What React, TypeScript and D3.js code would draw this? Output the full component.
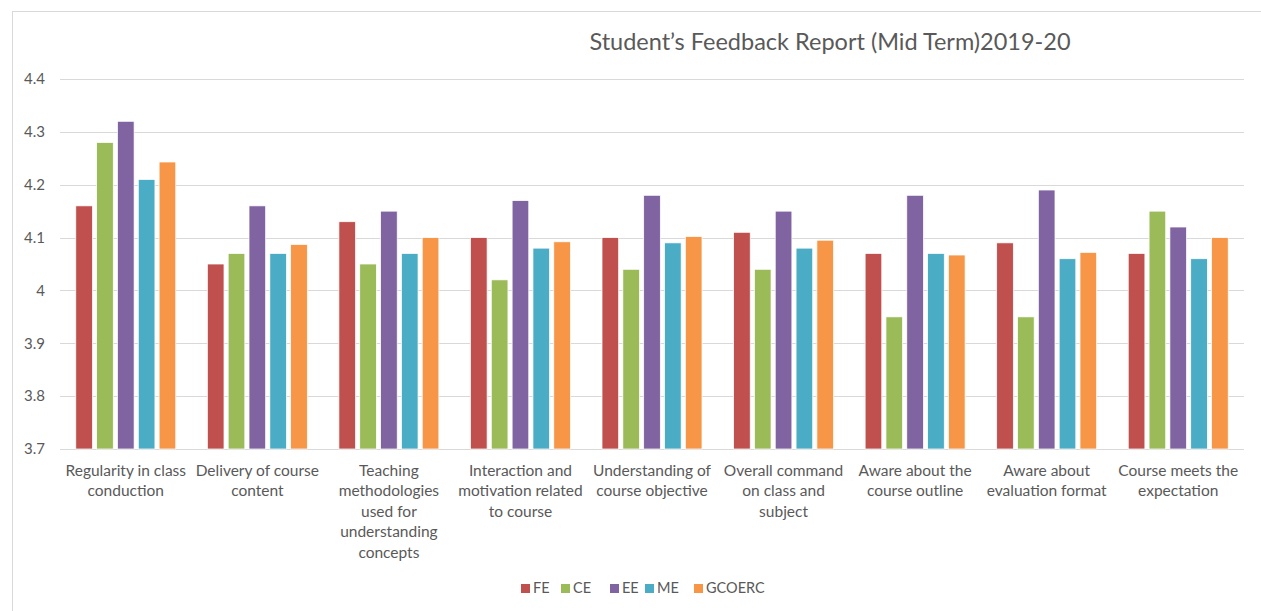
import React, { useEffect, useRef } from "react";
import * as d3 from "d3";

const categories = [
  ["Regularity in class", "conduction"],
  ["Delivery of course", "content"],
  ["Teaching", "methodologies", "used for", "understanding", "concepts"],
  ["Interaction and", "motivation related", "to course"],
  ["Understanding of", "course objective"],
  ["Overall command", "on class and", "subject"],
  ["Aware about the", "course outline"],
  ["Aware about", "evaluation format"],
  ["Course meets the", "expectation"],
];

const seriesNames = ["FE", "CE", "EE", "ME", "GCOERC"];
const FE = [4.16, 4.05, 4.13, 4.1, 4.1, 4.11, 4.07, 4.09, 4.07];
const CE = [4.28, 4.07, 4.05, 4.02, 4.04, 4.04, 3.95, 3.95, 4.15];
const EE = [4.32, 4.16, 4.15, 4.17, 4.18, 4.15, 4.18, 4.19, 4.12];
const ME = [4.21, 4.07, 4.07, 4.08, 4.09, 4.08, 4.07, 4.06, 4.06];
const GCOERC = [4.243, 4.087, 4.1, 4.092, 4.102, 4.095, 4.067, 4.072, 4.1];
const yTicks = [3.7, 3.8, 3.9, 4, 4.1, 4.2, 4.3, 4.4];

const colors = ["#c0504d", "#9bbb59", "#8064a2", "#4bacc6", "#f79646"];
const font = "Lato, 'Open Sans', sans-serif";
const textColor = "#595959";

const W = 1261;
const H = 611;

export default function App() {
  const ref = useRef<SVGSVGElement | null>(null);

  useEffect(() => {
    const svg = d3.select(ref.current);
    svg.selectAll("*").remove();

    const left = 60;
    const right = 1244;
    const top = 79;
    const bottom = 449;
    const values = [FE, CE, EE, ME, GCOERC];

    // chart frame
    svg
      .append("rect")
      .attr("x", 12.5)
      .attr("y", 11.5)
      .attr("width", W)
      .attr("height", H)
      .attr("fill", "white")
      .attr("stroke", "#d9d9d9");

    const x = d3
      .scaleBand<number>()
      .domain(d3.range(categories.length))
      .range([left, right])
      .paddingInner(0.24)
      .paddingOuter(0.12);
    const xs = d3
      .scaleBand<number>()
      .domain(d3.range(seriesNames.length))
      .range([0, x.bandwidth()])
      .paddingInner(0.2);
    const y = d3.scaleLinear().domain([3.7, 4.4]).range([bottom, top]);

    // gridlines
    svg
      .append("g")
      .selectAll("line")
      .data(yTicks)
      .enter()
      .append("line")
      .attr("x1", left)
      .attr("x2", right)
      .attr("y1", (d) => Math.round(y(d)) + 0.5)
      .attr("y2", (d) => Math.round(y(d)) + 0.5)
      .style("stroke", "#d9d9d9")
      .style("stroke-width", 1);

    // y tick labels
    svg
      .append("g")
      .selectAll("text")
      .data(yTicks)
      .enter()
      .append("text")
      .attr("x", 45)
      .attr("y", (d) => y(d))
      .attr("dy", "0.35em")
      .attr("text-anchor", "end")
      .attr("font-family", font)
      .attr("font-size", 15)
      .attr("fill", textColor)
      .text((d) => (d === 4 ? "4" : d3.format(".1f")(d)));

    // bars
    seriesNames.forEach((name, si) => {
      svg
        .append("g")
        .selectAll("rect")
        .data(values[si])
        .enter()
        .append("rect")
        .attr("x", (d, i) => (x(i) as number) + (xs(si) as number))
        .attr("y", (d) => y(d))
        .attr("width", xs.bandwidth())
        .attr("height", (d) => bottom - y(d))
        .style("fill", colors[si])
        .style("stroke", "white")
        .style("stroke-width", 0.75);
    });

    // category labels
    const labels = svg.append("g");
    categories.forEach((lines, i) => {
      const cx = (x(i) as number) + x.bandwidth() / 2;
      const t = labels
        .append("text")
        .attr("text-anchor", "middle")
        .attr("font-family", font)
        .attr("font-size", 15.5)
        .attr("fill", textColor);
      lines.forEach((line, li) => {
        t.append("tspan").attr("x", cx).attr("y", 476 + li * 20.4).text(line);
      });
    });

    // title
    svg
      .append("text")
      .attr("x", 830)
      .attr("y", 50)
      .attr("text-anchor", "middle")
      .attr("font-family", font)
      .attr("font-size", 23.5)
      .attr("fill", textColor)
      .text("Student\u2019s Feedback Report (Mid Term)2019-20");

    // legend
    const legendX = [521, 561, 610, 645, 694];
    const legend = svg.append("g");
    seriesNames.forEach((name, i) => {
      legend
        .append("rect")
        .attr("x", legendX[i])
        .attr("y", 584)
        .attr("width", 9)
        .attr("height", 9)
        .style("fill", colors[i]);
      legend
        .append("text")
        .attr("x", legendX[i] + 12)
        .attr("y", 593)
        .attr("font-family", font)
        .attr("font-size", 14.5)
        .attr("fill", textColor)
        .text(name);
    });
  }, []);

  return (
    <svg
      ref={ref}
      width={W}
      height={H}
      style={{ position: "absolute", left: 0, top: 0, background: "white" }}
    />
  );
}
